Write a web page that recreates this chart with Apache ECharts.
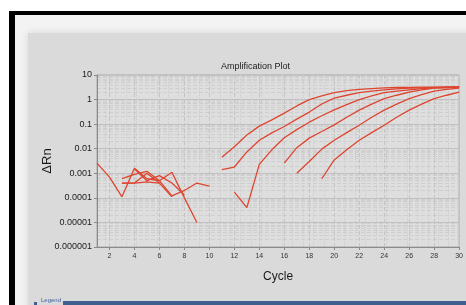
<!DOCTYPE html>
<html>
<head>
<meta charset="utf-8">
<script src="https://cdn.jsdelivr.net/npm/echarts@6/dist/echarts.min.js"></script>
<style>
  html, body { margin: 0; padding: 0; background: #fff; }
  #chart { width: 466px; height: 305px; }
</style>
</head>
<body>
<div id="chart"></div>
<script>
// cycle numbers and x tick labels
const cycles = [1, 2, 3, 4, 5, 6, 7, 8, 9, 10, 11, 12, 13, 14, 15, 16, 17, 18, 19, 20, 21, 22, 23, 24, 25, 26, 27, 28, 29, 30];
const xTicks = [2, 4, 6, 8, 10, 12, 14, 16, 18, 20, 22, 24, 26, 28, 30];

// background noise (cycles 1..10), null = no point
const noise1 = [0.0026, 0.0007, 0.00011, 0.0016, 0.0006, 0.0005, 0.0011, 0.0001, 0.00001];
const noise2 = [null, null, 0.0006, 0.0009, 0.0012, 0.0005, 0.00012, 0.0002, 0.0004, 0.0003];
const noise3 = [null, null, 0.0004, 0.0004, 0.00045, 0.0004, 0.00011];
const noise4 = [null, null, null, 0.0015, 0.0005, 0.0008, 0.0004, 0.00013];
const noise5 = [null, null, 0.0004, 0.0004, 0.001, 0.0004];

// amplification curves (cycles 1..30)
const amp1 = [null, null, null, null, null, null, null, null, null, null,
  0.0045, 0.012, 0.036, 0.083, 0.15, 0.28, 0.55, 1.0, 1.4, 1.9, 2.3, 2.6, 2.8, 3.0, 3.1, 3.1, 3.2, 3.2, 3.2, 3.2];
const amp2 = [null, null, null, null, null, null, null, null, null, null,
  0.0014, 0.0018, 0.0074, 0.022, 0.044, 0.08, 0.16, 0.31, 0.66, 1.15, 1.5, 1.9, 2.2, 2.5, 2.7, 2.9, 3.0, 3.1, 3.2, 3.3];
const amp3 = [null, null, null, null, null, null, null, null, null, null,
  null, 0.00017, 0.00004, 0.0023, 0.009, 0.028, 0.06, 0.12, 0.22, 0.38, 0.62, 1.0, 1.4, 1.9, 2.2, 2.5, 2.8, 3.0, 3.1, 3.2];
const amp4 = [null, null, null, null, null, null, null, null, null, null,
  null, null, null, null, null, 0.0026, 0.011, 0.027, 0.05, 0.093, 0.19, 0.37, 0.65, 1.1, 1.5, 2.0, 2.5, 2.9, 3.1, 3.2];
const amp5 = [null, null, null, null, null, null, null, null, null, null,
  null, null, null, null, null, null, 0.001, 0.003, 0.0096, 0.022, 0.045, 0.09, 0.19, 0.37, 0.65, 1.1, 1.6, 2.2, 2.6, 2.9];
const amp6 = [null, null, null, null, null, null, null, null, null, null,
  null, null, null, null, null, null, null, null, 0.0006, 0.0035, 0.009, 0.022, 0.045, 0.09, 0.19, 0.37, 0.65, 1.1, 1.5, 2.0];

const allSeries = [noise1, noise2, noise3, noise4, noise5, amp1, amp2, amp3, amp4, amp5, amp6];

function toPoints(values) {
    let pts = [];
    for (let i = 0; i < values.length; i++) {
        pts.push([cycles[i], values[i] == null ? '-' : values[i]]);
    }
    return pts;
}

function yLabel(v) {
    if (v >= 1) return String(Math.round(v));
    return v.toFixed(Math.round(-Math.log10(v)));
}

const sans = '"Liberation Sans", Arial, sans-serif';
const chart = echarts.init(document.getElementById('chart'));

let option = {
    backgroundColor: '#ffffff',
    animation: false,
    title: {
        text: 'Amplification Plot',
        left: 216,
        top: 57,
        textStyle: { fontFamily: sans, fontSize: 9, fontWeight: 'normal', color: '#1a1a1a' }
    },
    graphic: [
        // frame
        { type: 'rect', z: -100, shape: { x: 9, y: 11, width: 470, height: 300 }, style: { fill: '#000' } },
        { type: 'rect', z: -99, shape: { x: 15, y: 15, width: 460, height: 300 }, style: { fill: '#f3f3f3' } },
        {
            type: 'rect', z: -98, shape: { x: 28, y: 33, width: 450, height: 280 },
            style: { fill: '#dadada', shadowBlur: 8, shadowColor: 'rgba(0,0,0,0.12)' }
        },
        // legend strip
        { type: 'rect', z: -97, shape: { x: 63, y: 301, width: 410, height: 6 }, style: { fill: '#3f5f8f' } },
        { type: 'rect', z: -97, shape: { x: 34, y: 302, width: 3, height: 3 }, style: { fill: '#3f5f8f' } },
        {
            type: 'text', z: -97, x: 41, y: 297,
            style: { text: 'Legend', fontSize: 6, fontFamily: sans, fill: '#3f5f9f' }
        }
    ],
    grid: {
        left: 97,
        right: 5,
        top: 75,
        bottom: 58,
        show: true,
        backgroundColor: '#dedede',
        borderColor: '#a8a8a8',
        borderWidth: 1
    },
    xAxis: {
        type: 'value',
        min: 1,
        max: 30,
        name: 'Cycle',
        nameLocation: 'middle',
        nameGap: 24,
        nameMoveOverlap: false,
        nameTextStyle: { fontFamily: sans, fontSize: 12, color: '#1a1a1a' },
        axisLine: { lineStyle: { color: '#8a8a8a' } },
        axisTick: { customValues: xTicks, length: 3, lineStyle: { color: '#8a8a8a' } },
        axisLabel: {
            customValues: xTicks,
            fontFamily: sans, fontSize: 7, color: '#333', margin: 6
        },
        splitLine: { show: true, lineStyle: { color: '#c4c4c4', type: 'dashed', width: 1 } },
        minorTick: { show: false, splitNumber: 6 },
        minorSplitLine: { show: true, lineStyle: { color: '#cecece', type: 'dotted' } }
    },
    yAxis: {
        type: 'log',
        logBase: 10,
        min: 0.000001,
        max: 10,
        interval: 1,
        name: 'ΔRn',
        nameLocation: 'middle',
        nameRotate: 90,
        nameGap: 43,
        nameMoveOverlap: false,
        nameTextStyle: { fontFamily: sans, fontSize: 13, color: '#1a1a1a' },
        axisLine: { show: true, lineStyle: { color: '#8a8a8a' } },
        axisTick: { show: true, length: 3, lineStyle: { color: '#8a8a8a' } },
        axisLabel: {
            formatter: yLabel,
            fontFamily: sans, fontSize: 9, color: '#1a1a1a', margin: 5
        },
        splitLine: { show: true, lineStyle: { color: '#c0c0c0', width: 1 } },
        minorTick: { show: false, splitNumber: 9 },
        minorSplitLine: { show: true, lineStyle: { color: '#cfcfcf', type: 'dashed' } }
    },
    series: allSeries.map(function (vals, i) {
        return {
            name: 'well' + (i + 1),
            type: 'line',
            data: toPoints(vals),
            showSymbol: false,
            connectNulls: false,
            lineStyle: { color: '#de4530', width: 1.3 },
            itemStyle: { color: '#de4530' }
        };
    })
};

chart.setOption(option);
</script>
</body>
</html>
